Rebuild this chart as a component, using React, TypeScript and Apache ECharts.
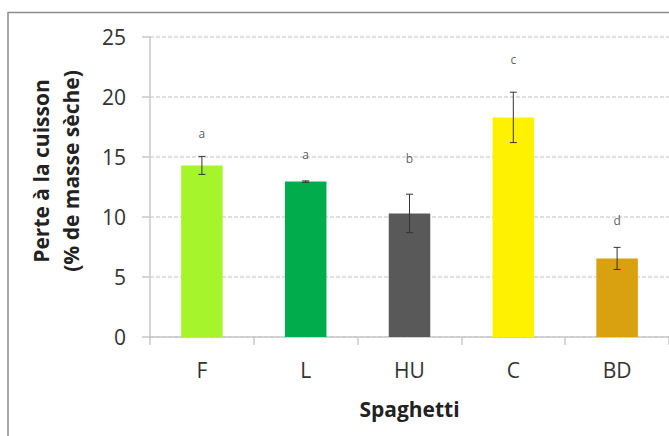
import React, { useEffect, useRef } from "react";
import * as echarts from "echarts";

const categories = ["F", "L", "HU", "C", "BD"];
const means = [14.3, 12.95, 10.3, 18.3, 6.55];
const errors = [0.75, 0.06, 1.6, 2.1, 0.92];
const letters = ["a", "a", "b", "c", "d"];
const letterLevels = [17.0, 15.2, 14.9, 23.1, 9.7];
const barColors = ["#A6F52A", "#00AC4C", "#595959", "#FFF200", "#D9A010"];
const yTicks = [0, 5, 10, 15, 20, 25];

const FONT = "'Open Sans', sans-serif";

export default function App() {
  const ref = useRef<HTMLDivElement>(null);
  useEffect(() => {
    if (!ref.current) return;
    const chart = echarts.init(ref.current, undefined, { renderer: "svg" });
    const errData = means.map((m, i) => [i, m - errors[i], m + errors[i]]);
    chart.setOption({
      animation: false,
      backgroundColor: "#ffffff",
      grid: { left: 150, top: 37, width: 521, height: 300, containLabel: false },
      xAxis: {
        type: "category",
        data: categories,
        axisLine: { lineStyle: { color: "#c8c8c8", width: 1.5 } },
        axisTick: { show: true, length: 8, alignWithLabel: false, lineStyle: { color: "#c8c8c8", width: 1.5 } },
        axisLabel: { color: "#333333", fontSize: 21, fontFamily: FONT, margin: 22 },
        name: "Spaghetti",
        nameLocation: "middle",
        nameGap: 61,
        nameTextStyle: { color: "#222222", fontSize: 21, fontWeight: "bold", fontFamily: FONT },
      },
      yAxis: {
        type: "value",
        min: yTicks[0],
        max: yTicks[yTicks.length - 1],
        interval: 5,
        axisLine: { show: true, lineStyle: { color: "#c8c8c8", width: 1.5 } },
        axisTick: { show: true, length: 8, lineStyle: { color: "#c8c8c8", width: 1.5 } },
        axisLabel: { color: "#333333", fontSize: 21, fontFamily: FONT, margin: 24 },
        splitLine: { show: true, lineStyle: { color: "#d6d6d6", type: [4, 2], width: 1.5 } },
      },
      series: [
        {
          type: "bar",
          data: means.map((v, i) => ({ value: v, itemStyle: { color: barColors[i] } })),
          barWidth: "40%",
        },
        {
          type: "custom",
          data: errData,
          z: 10,
          renderItem: (params: any, api: any) => {
            const x = api.value(0);
            const lo = api.coord([x, api.value(1)]);
            const hi = api.coord([x, api.value(2)]);
            const cap = 3.5;
            const style = { stroke: "#333333", lineWidth: 1 };
            return {
              type: "group",
              children: [
                { type: "line", shape: { x1: lo[0], y1: lo[1], x2: hi[0], y2: hi[1] }, style },
                { type: "line", shape: { x1: lo[0] - cap, y1: lo[1], x2: lo[0] + cap, y2: lo[1] }, style },
                { type: "line", shape: { x1: hi[0] - cap, y1: hi[1], x2: hi[0] + cap, y2: hi[1] }, style },
              ],
            };
          },
        },
        {
          type: "scatter",
          data: letterLevels.map((v, i) => [i, v]),
          symbolSize: 0,
          label: {
            show: true,
            position: "inside",
            formatter: (p: any) => letters[p.dataIndex],
            color: "#333333",
            fontSize: 12,
            fontFamily: FONT,
          },
        },
      ],
      graphic: [
        {
          type: "rect",
          shape: { x: 8, y: 12.5, width: 700, height: 500 },
          style: { fill: "none", stroke: "#8c8c8c", lineWidth: 1.5 },
          silent: true,
        },
        {
          type: "text",
          x: 56,
          y: 171,
          rotation: Math.PI / 2,
          style: {
            text: "Perte à la cuisson\n(% de masse sèche)",
            fontSize: 21,
            fontWeight: "bold",
            fontFamily: FONT,
            fill: "#222222",
            align: "center",
            verticalAlign: "middle",
            lineHeight: 30,
          },
        },
      ],
    });
    return () => chart.dispose();
  }, []);
  return (
    <div
      ref={ref}
      style={{ position: "fixed", left: 0, top: 0, width: 669, height: 436, background: "#fff" }}
    />
  );
}
